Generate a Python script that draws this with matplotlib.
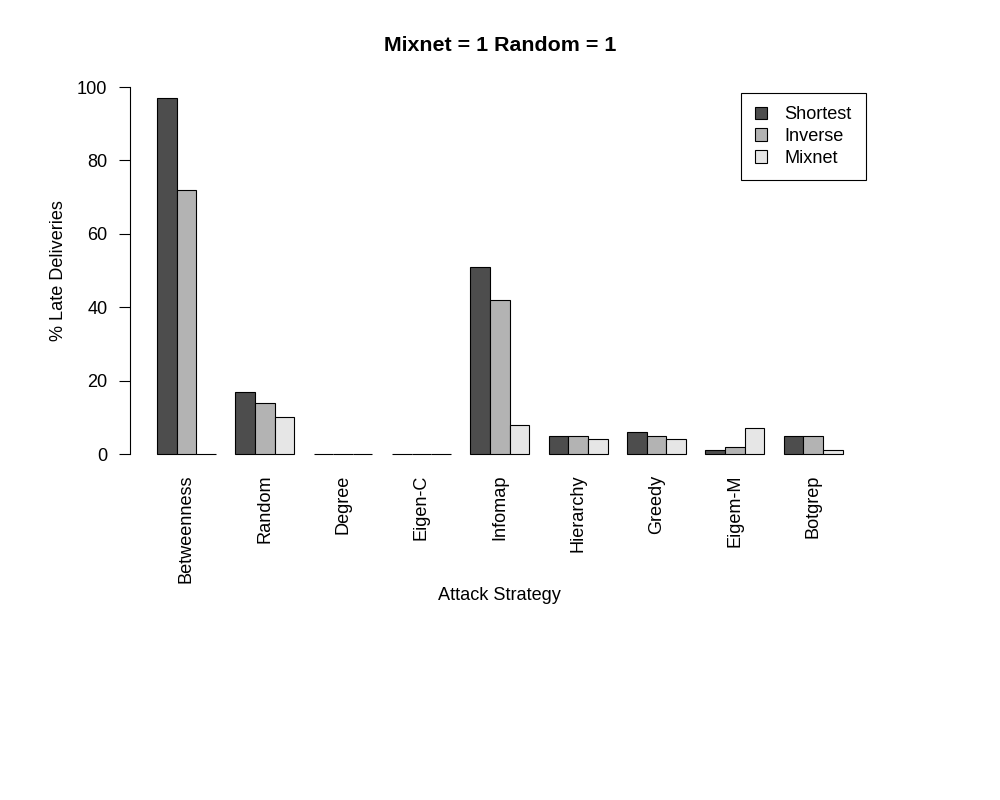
import numpy as np
import matplotlib
matplotlib.use('Agg')
import matplotlib.pyplot as plt
from matplotlib.patches import Patch

plt.rcParams['font.family'] = ['Liberation Sans', 'DejaVu Sans']

# data
strategies = ['Betweenness', 'Random', 'Degree', 'Eigen-C', 'Infomap',
              'Hierarchy', 'Greedy', 'Eigem-M', 'Botgrep']
shortest = [97, 17, 0, 0, 51, 5, 6, 1, 5]
inverse = [72, 14, 0, 0, 42, 5, 5, 2, 5]
mixnet = [0, 10, 0, 0, 8, 4, 4, 7, 1]
series_names = ['Shortest', 'Inverse', 'Mixnet']
colors = ['#4d4d4d', '#b3b3b3', '#e6e6e6']

fs = 13.1

fig = plt.figure(figsize=(10, 8), dpi=100)
fig.set_facecolor('white')
ax = fig.add_axes([0.1296, 0.4141, 0.7404, 0.4955])

# R barplot layout: beside=TRUE, one bar gap between groups
n = len(strategies)
group_left = 1 + 4 * np.arange(n)
for j, vals in enumerate([shortest, inverse, mixnet]):
    ax.bar(group_left + j, vals, width=1, align='edge',
           color=colors[j], edgecolor='black', linewidth=0.8)

ax.set_xlim(-0.4, 37.4)
ax.set_ylim(-4, 104)

for s in ['top', 'right', 'bottom']:
    ax.spines[s].set_visible(False)
ax.spines['left'].set_bounds(0, 100)
ax.spines['left'].set_linewidth(0.8)

ax.set_yticks([0, 20, 40, 60, 80, 100])
ax.tick_params(axis='y', labelsize=fs, length=8, width=0.8, pad=8)
ax.set_xticks(group_left + 1.5)
ax.set_xticklabels(strategies, rotation=90, fontsize=fs)
ax.tick_params(axis='x', length=0, pad=4)

ax.set_xlabel('Attack Strategy', fontsize=fs, labelpad=3)
ax.set_ylabel('% Late Deliveries', fontsize=fs, labelpad=7)
fig.text(0.5, 0.943, 'Mixnet = 1 Random = 1', ha='center', va='center',
         fontsize=15.4, fontweight='bold')

handles = [Patch(facecolor=c, edgecolor='black', linewidth=0.8) for c in colors]
leg = fig.legend(handles, series_names, loc='upper left',
                 bbox_to_anchor=(0.741, 0.884), borderaxespad=0,
                 fontsize=fs, fancybox=False, edgecolor='black',
                 framealpha=1, handlelength=0.7, handleheight=0.7,
                 handletextpad=0.95, borderpad=0.75, labelspacing=0.25)
leg.get_frame().set_linewidth(0.8)

plt.savefig('out.png', dpi=100, facecolor='white')
